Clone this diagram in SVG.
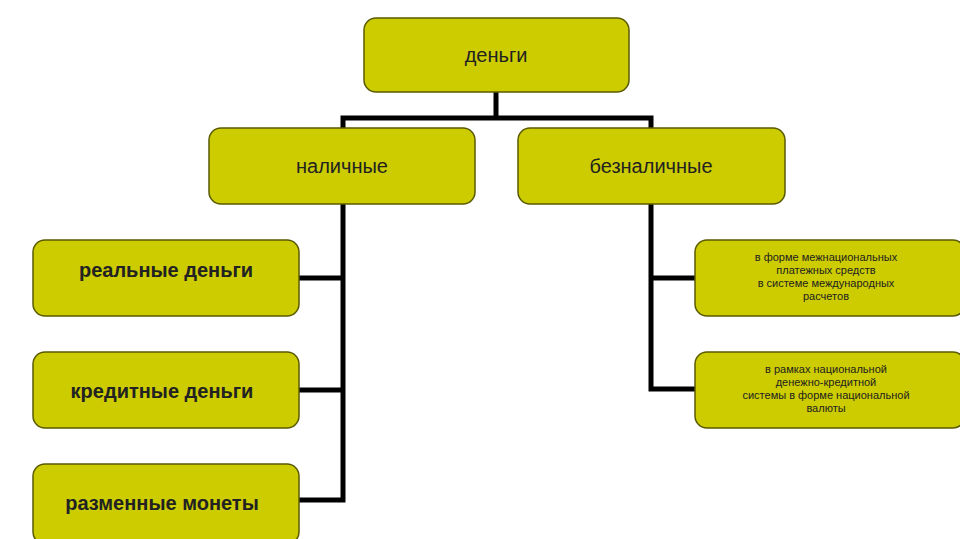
<svg xmlns="http://www.w3.org/2000/svg" width="960" height="539" viewBox="0 0 960 539">
<style>
.b{fill:#cccc00;stroke:#5a5a00;stroke-width:1.5}
.t{font-family:"Liberation Sans",Arial,sans-serif;fill:#222;text-anchor:middle}
.l{font-size:20px}
.k{font-size:20px;font-weight:bold}
.s{font-size:11px}
.c{stroke:#000;stroke-width:5;fill:none}
</style>
<rect width="960" height="539" fill="#fff"/>
<g id="connectors">
<path class="c" d="M496 92V118M343 128V118H651V128M343 204V500H299M343 278H299M343 390H299M651 204V389H695M651 278H695"/>
</g>
<g id="n-money"><rect class="b" x="364" y="18" width="265" height="74" rx="12"/><text class="t l" x="496" y="62">деньги</text></g>
<g id="n-cash"><rect class="b" x="209" y="128" width="266" height="76" rx="12"/><text class="t l" x="342" y="173">наличные</text></g>
<g id="n-noncash"><rect class="b" x="518" y="128" width="267" height="76" rx="12"/><text class="t l" x="651" y="173">безналичные</text></g>
<g id="n-real"><rect class="b" x="33" y="240" width="266" height="76" rx="12"/><text class="t k" x="166" y="277">реальные деньги</text></g>
<g id="n-credit"><rect class="b" x="33" y="352" width="266" height="76" rx="12"/><text class="t k" x="162" y="398">кредитные деньги</text></g>
<g id="n-coins"><rect class="b" x="33" y="464" width="266" height="80" rx="12"/><text class="t k" x="162" y="510">разменные монеты</text></g>
<g id="n-intl"><rect class="b" x="695" y="240" width="270" height="76" rx="12"/><text class="t s" x="826" y="261"><tspan x="826">в форме межнациональных</tspan><tspan x="826" dy="13">платежных средств</tspan><tspan x="826" dy="13">в системе международных</tspan><tspan x="826" dy="13">расчетов</tspan></text></g>
<g id="n-natl"><rect class="b" x="695" y="352" width="270" height="76" rx="12"/><text class="t s" x="826" y="373"><tspan x="826">в рамках национальной</tspan><tspan x="826" dy="13">денежно-кредитной</tspan><tspan x="826" dy="13">системы в форме национальной</tspan><tspan x="826" dy="13">валюты</tspan></text></g>
</svg>
